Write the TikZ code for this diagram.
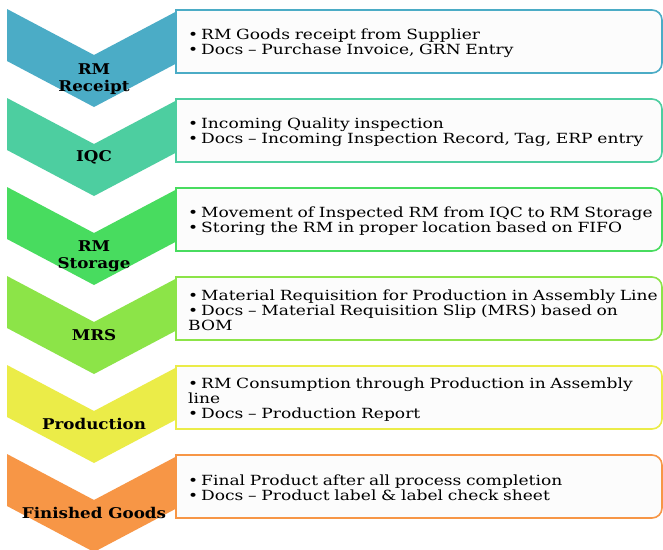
\documentclass[tikz,border=0pt]{standalone}
\usepackage{fontspec}
\setmainfont{DejaVu Serif}[FakeStretch=1.22]
\newfontfamily\labelfont{DejaVu Serif}[FakeStretch=1.13]

\definecolor{rcptblue}{RGB}{75,172,198}
\definecolor{iqcmint}{RGB}{77,206,160}
\definecolor{storegreen}{RGB}{72,220,95}
\definecolor{mrsgreen}{RGB}{140,228,72}
\definecolor{prodyellow}{RGB}{235,236,72}
\definecolor{fgorange}{RGB}{247,150,70}

\newcommand\bul[1]{\par\hangindent=13pt\hangafter=1\makebox[13pt][l]{\textbullet}#1}

\tikzset{
  infobox/.style={draw=#1,line width=1.6pt,fill=black!1},
  steplabel/.style={font=\labelfont\bfseries\fontsize{14.8}{17}\selectfont,align=center,inner sep=0pt},
  steptext/.style={anchor=west,text width=472pt,align=left,inner sep=0pt,
    font=\fontsize{14}{15}\selectfont},
}

\begin{document}
\begin{tikzpicture}[x=1pt,y=-1pt]
\clip (0,0) rectangle (663,549);
\fill[white] (0,0) rectangle (663,549);

% chevrons and the boxes beside them
\foreach \y/\c in {9/rcptblue,98/iqcmint,187/storegreen,276/mrsgreen,365/prodyellow,454/fgorange}{
  \fill[\c] (7,\y) -- (94,\y+46) -- (181,\y) -- (181,\y+52) -- (94,\y+98) -- (7,\y+52) -- cycle;
  \draw[infobox=\c] (176,\y+1) [rounded corners=10pt] -- (662,\y+1) -- (662,\y+64)
    [sharp corners] -- (176,\y+64) -- cycle;
}

% step names
\node[steplabel] (rcpt) at (94,79) {RM\\Receipt};
\node[steplabel] (iqc) at (94,157) {IQC};
\node[steplabel] (store) at (94,256) {RM\\Storage};
\node[steplabel] (mrs) at (94,335) {MRS};
\node[steplabel] (prod) at (94,424) {Production};
\node[steplabel] (fg) at (94,513) {Finished Goods};

% details
\node[steptext] (rcpttxt) at (188,41) {\bul{RM Goods receipt from Supplier}
  \bul{Docs -- Purchase Invoice, GRN Entry}};
\node[steptext] (iqctxt) at (188,130) {\bul{Incoming Quality inspection}
  \bul{Docs -- Incoming Inspection Record, Tag, ERP entry}};
\node[steptext] (storetxt) at (188,219) {\bul{Movement of Inspected RM from IQC to RM Storage}
  \bul{Storing the RM in proper location based on FIFO}};
\node[steptext] (mrstxt) at (188,308) {\bul{Material Requisition for Production in Assembly Line}
  \bul{Docs -- Material Requisition Slip (MRS) based on\\BOM}};
\node[steptext] (prodtxt) at (188,397) {\bul{RM Consumption through Production in Assembly\\line}
  \bul{Docs -- Production Report}};
\node[steptext] (fgtxt) at (188,486) {\bul{Final Product after all process completion}
  \bul{Docs -- Product label \& label check sheet}};
\end{tikzpicture}
\end{document}
